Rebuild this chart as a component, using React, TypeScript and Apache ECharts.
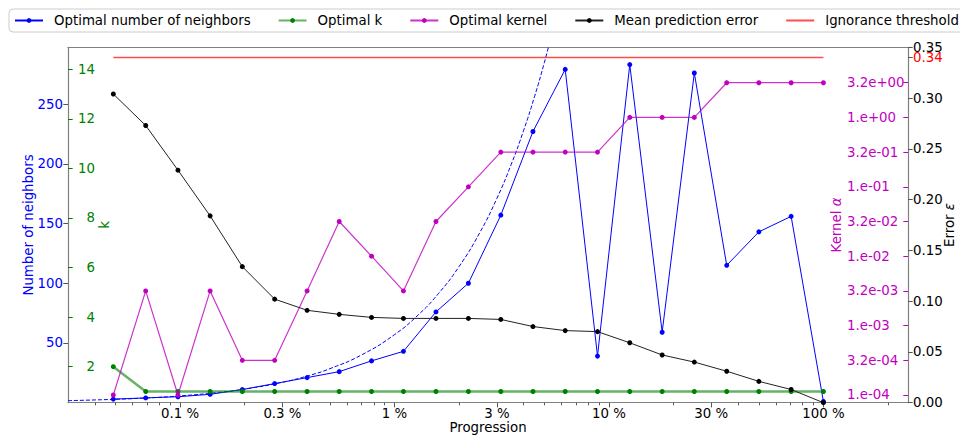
import React, { useEffect, useRef } from 'react';
import * as echarts from 'echarts';

// ---- data ----
const progression = [0.0488, 0.0691, 0.0977, 0.138, 0.195, 0.276, 0.391, 0.552, 0.781, 1.1, 1.56, 2.21, 3.13, 4.42, 6.25, 8.84, 12.5, 17.7, 25.0, 35.4, 50.0, 70.7, 100];
const neighbors = [3, 4, 5, 7, 11, 16, 21, 26, 35, 43, 76, 100, 157, 227, 279, 39, 283, 59, 276, 115, 143, 156, 1];
const kValues = [2, 1, 1, 1, 1, 1, 1, 1, 1, 1, 1, 1, 1, 1, 1, 1, 1, 1, 1, 1, 1, 1, 1];
const kernelAlpha = [1e-4, 3.16e-3, 1e-4, 3.16e-3, 3.16e-4, 3.16e-4, 3.16e-3, 3.16e-2, 1e-2, 3.16e-3, 3.16e-2, 1e-1, 3.16e-1, 3.16e-1, 3.16e-1, 3.16e-1, 1, 1, 1, 3.16, 3.16, 3.16, 3.16];
const meanError = [0.304, 0.273, 0.229, 0.184, 0.134, 0.102, 0.091, 0.087, 0.084, 0.083, 0.083, 0.083, 0.082, 0.075, 0.071, 0.07, 0.059, 0.047, 0.04, 0.031, 0.021, 0.013, 0.0];
const ignoranceThreshold = 0.34;
const fitProgression = [0.03, 0.05, 0.07, 0.1, 0.15, 0.2, 0.3, 0.4, 0.5, 0.7, 1, 1.3, 1.6, 2, 2.5, 3, 3.5, 4, 4.5, 5, 5.5];
const fitNeighbors = [1.71, 2.85, 3.99, 5.7, 8.55, 11.4, 17.1, 22.8, 28.5, 39.9, 57, 74.1, 91.2, 114, 142.5, 171, 199.5, 228, 256.5, 285, 313.5];

const xMajorTicks = [0.1, 0.3, 1, 3, 10, 30, 100];
const xMinorTicks = [0.04, 0.05, 0.06, 0.07, 0.08, 0.09, 0.2, 0.4, 0.5, 0.6, 0.7, 0.8, 0.9, 2, 4, 5, 6, 7, 8, 9, 20, 40, 50, 60, 70, 80, 90, 200];
const neighborTicks = [50, 100, 150, 200, 250];
const kTicks = [2, 4, 6, 8, 10, 12, 14];
const kernelTicks = [1e-4, 3.16e-4, 1e-3, 3.16e-3, 1e-2, 3.16e-2, 1e-1, 3.16e-1, 1, 3.16];
const errorTicks = [0, 0.05, 0.1, 0.15, 0.2, 0.25, 0.3, 0.35];

const FONT = 'DejaVu Sans';
const FS = 13.33;
const SPINE = '#808080';
const BLUE = '#0000ff';
const GREEN = '#008000';
const MAGENTA = '#bf00bf';

const lg = (v: number) => Math.log10(v);

function kernelLabel(v: number) {
  const e = Math.floor(v + 1e-6);
  const frac = v - e;
  const mant = frac > 0.25 ? '3.2' : '1.';
  const sign = e < 0 ? '-' : '+';
  const a = Math.abs(e);
  return mant + 'e' + sign + (a < 10 ? '0' + a : '' + a);
}

function pctLabel(v: number) {
  const p = Math.pow(10, v);
  return Number(p.toPrecision(1)) + ' %';
}

export default function App() {
  const ref = useRef<HTMLDivElement>(null);
  useEffect(() => {
    const chart = echarts.init(ref.current!, null, { renderer: 'svg' });
    const xMin = lg(0.03);
    const xMax = lg(248);
    const baseText = { fontFamily: FONT, fontSize: FS };
    const option: any = {
      animation: false,
      textStyle: baseText,
      legend: {
        left: 9,
        top: 9,
        width: 1100,
        padding: [5, 5, 5, 5],
        borderColor: '#cccccc',
        borderWidth: 1,
        borderRadius: 4,
        itemWidth: 28,
        itemHeight: 6,
        itemGap: 27,
        selectedMode: false,
        textStyle: { ...baseText, color: '#000', padding: [0, 0, 0, 6] },
        data: [
          { name: 'Optimal number of neighbors' },
          { name: 'Optimal k' },
          { name: 'Optimal kernel' },
          { name: 'Mean prediction error' },
          { name: 'Ignorance threshold', itemStyle: { color: 'rgba(0,0,0,0)', opacity: 0 } },
        ],
      },
      grid: { left: 68, right: 52, top: 47.3, bottom: 33.3, containLabel: false, outerBoundsMode: 'none' },
      xAxis: [
        {
          type: 'value', position: 'bottom', min: xMin, max: xMax,
          axisLine: { show: true, onZero: false, lineStyle: { color: SPINE, width: 1.2 } },
          axisTick: { show: true, customValues: xMajorTicks.map(lg), length: 4.67, lineStyle: { color: '#555' } },
          axisLabel: { customValues: xMajorTicks.map(lg), formatter: pctLabel, margin: 4, color: '#000', ...baseText },
          splitLine: { show: false },
          name: 'Progression', nameLocation: 'middle', nameGap: 18, nameMoveOverlap: false,
          nameTextStyle: { ...baseText, color: '#000' },
        },
        {
          type: 'value', position: 'top', min: xMin, max: xMax,
          axisLine: { show: true, onZero: false, lineStyle: { color: SPINE, width: 1.2 } },
          axisTick: { show: false }, axisLabel: { show: false }, splitLine: { show: false },
        },
        {
          type: 'value', position: 'bottom', min: xMin, max: xMax,
          axisLine: { show: false, onZero: false },
          axisTick: { show: true, customValues: xMinorTicks.map(lg), length: 2.6, lineStyle: { color: '#555' } },
          axisLabel: { show: false }, splitLine: { show: false },
        },
      ],
      yAxis: [
        {
          type: 'value', position: 'left', min: 0, max: 297.5,
          axisLine: { show: true, onZero: false, lineStyle: { color: SPINE, width: 1.2 } },
          axisTick: { show: true, customValues: neighborTicks, length: 4.67, lineStyle: { color: '#555' } },
          axisLabel: { customValues: neighborTicks, margin: 5, color: BLUE, ...baseText },
          splitLine: { show: false },
          name: 'Number of neighbors', nameLocation: 'middle', nameGap: 33, nameRotate: 90, nameMoveOverlap: false,
          nameTextStyle: { ...baseText, color: BLUE },
        },
        {
          type: 'value', position: 'left', min: 0.547, max: 14.888,
          axisLine: { show: false, onZero: false },
          axisTick: { show: true, inside: true, customValues: kTicks, length: 4.67, lineStyle: { color: GREEN } },
          axisLabel: { inside: true, customValues: kTicks, margin: 27, align: 'right', color: GREEN, ...baseText },
          splitLine: { show: false },
          name: 'k', nameLocation: 'middle', nameGap: -43, nameRotate: 90, nameMoveOverlap: false,
          nameTextStyle: { ...baseText, color: GREEN },
        },
        {
          type: 'value', position: 'right', min: -4.111, max: 1.01,
          axisLine: { show: false, onZero: false },
          axisTick: { show: true, inside: true, customValues: kernelTicks.map(lg), length: 4.67, lineStyle: { color: MAGENTA } },
          axisLabel: { inside: true, customValues: kernelTicks.map(lg), formatter: kernelLabel, margin: 61, align: 'left', color: MAGENTA, ...baseText },
          splitLine: { show: false },
          name: 'Kernel {i|α}', nameLocation: 'middle', nameGap: -78, nameRotate: 90, nameMoveOverlap: false,
          nameTextStyle: { ...baseText, color: MAGENTA, rich: { i: { fontFamily: FONT, fontSize: FS, color: MAGENTA, fontStyle: 'italic' } } },
        },
        {
          type: 'value', position: 'right', min: 0, max: 0.35,
          axisLine: { show: true, onZero: false, lineStyle: { color: SPINE, width: 1.2 } },
          axisTick: { show: true, customValues: errorTicks, length: 4.67, lineStyle: { color: '#555' } },
          axisLabel: { customValues: errorTicks, margin: 5, color: '#000', ...baseText, formatter: (v: number) => v.toFixed(2) },
          splitLine: { show: false },
          name: 'Error {i|ε}', nameLocation: 'middle', nameGap: 35, nameRotate: 90, nameMoveOverlap: false,
          nameTextStyle: { ...baseText, color: '#000', rich: { i: { fontFamily: FONT, fontSize: FS, color: '#000', fontStyle: 'italic' } } },
        },
        {
          type: 'value', position: 'right', min: 0, max: 0.35,
          axisLine: { show: false, onZero: false },
          axisTick: { show: true, customValues: [ignoranceThreshold], length: 4.67, lineStyle: { color: '#555' } },
          axisLabel: { customValues: [ignoranceThreshold], margin: 5, color: '#ff0000', ...baseText, formatter: (v: number) => v.toFixed(2) },
          splitLine: { show: false },
        },
      ],
      series: [
        {
          name: 'Optimal number of neighbors', type: 'line', xAxisIndex: 0, yAxisIndex: 0,
          data: progression.map((p, i) => [lg(p), neighbors[i]]),
          symbol: 'circle', symbolSize: 5, showAllSymbol: true,
          lineStyle: { color: BLUE, width: 1 }, itemStyle: { color: BLUE }, z: 2,
        },
        {
          name: 'fit', type: 'line', xAxisIndex: 0, yAxisIndex: 0,
          data: fitProgression.map((p, i) => [lg(p), fitNeighbors[i]]),
          symbol: 'none', smooth: true,
          lineStyle: { color: BLUE, width: 1, type: [4, 2] }, z: 2,
        },
        {
          name: 'Optimal k', type: 'line', xAxisIndex: 0, yAxisIndex: 1,
          data: progression.map((p, i) => [lg(p), kValues[i]]),
          symbol: 'circle', symbolSize: 5, showAllSymbol: true,
          lineStyle: { color: 'rgba(0,128,0,0.6)', width: 2.5 }, itemStyle: { color: GREEN }, z: 3,
        },
        {
          name: 'Optimal kernel', type: 'line', xAxisIndex: 0, yAxisIndex: 2,
          data: progression.map((p, i) => [lg(p), lg(kernelAlpha[i])]),
          symbol: 'circle', symbolSize: 5, showAllSymbol: true,
          lineStyle: { color: 'rgba(191,0,191,0.8)', width: 1.2 }, itemStyle: { color: MAGENTA }, z: 4,
        },
        {
          name: 'Mean prediction error', type: 'line', xAxisIndex: 0, yAxisIndex: 3,
          data: progression.map((p, i) => [lg(p), meanError[i]]),
          symbol: 'circle', symbolSize: 5, showAllSymbol: true,
          lineStyle: { color: '#222', width: 1 }, itemStyle: { color: '#000' }, z: 5,
        },
        {
          name: 'Ignorance threshold', type: 'line', xAxisIndex: 0, yAxisIndex: 3,
          data: [[lg(progression[0]), ignoranceThreshold], [lg(progression[progression.length - 1]), ignoranceThreshold]],
          symbol: 'none',
          lineStyle: { color: 'rgba(255,0,0,0.7)', width: 1.5 }, itemStyle: { color: 'rgba(255,0,0,0.7)' }, z: 6,
        },
      ],
    };
    chart.setOption(option);
    return () => chart.dispose();
  }, []);
  return <div ref={ref} style={{ position: 'absolute', left: 0, top: 0, width: 960, height: 436 }} />;
}
